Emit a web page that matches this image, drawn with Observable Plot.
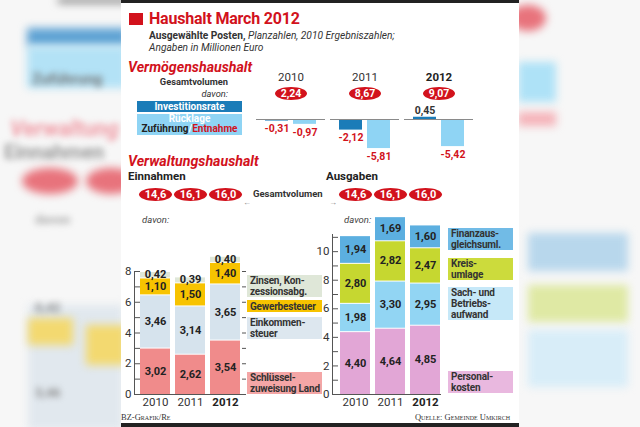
<!DOCTYPE html>
<html><head><meta charset="utf-8">
<script src="https://cdn.jsdelivr.net/npm/d3@7"></script>
<script src="https://cdn.jsdelivr.net/npm/@observablehq/plot@0.6"></script>
<style>
body{margin:0;background:#fff;}
#root{position:relative;width:640px;height:427px;overflow:hidden;background:#f7f7f7;font-family:Roboto,"Liberation Sans",sans-serif;color:#222;}
.abs{position:absolute;white-space:nowrap;}
.bl{position:absolute;filter:blur(4px);}
.blt{position:absolute;filter:blur(3px);white-space:nowrap;font-weight:bold;}
.plot{position:absolute;}
.plot svg{overflow:visible;}
.lg{position:absolute;font-size:10px;font-weight:bold;line-height:11px;letter-spacing:-0.2px;white-space:nowrap;color:#333;padding-left:3px;box-sizing:border-box;display:flex;flex-direction:column;justify-content:center;}
.lg span{display:block;height:11px;line-height:11px;}
</style></head>
<body>
<div id="root">
  <!-- blurred background decoration -->
  <div class="bl" style="left:58px;top:-2px;width:70px;height:5px;background:#777"></div>
  <div class="bl" style="left:27px;top:28px;width:100px;height:18px;background:#5fa3d4"></div>
  <div class="bl" style="left:27px;top:46px;width:100px;height:42px;background:#b3e2f6"></div>
  <div class="blt" style="left:32px;top:70px;font-size:15px;color:#777">Zuführung</div>
  <div class="blt" style="left:10px;top:116px;font-size:22px;color:#f09aa4;font-style:italic">Verwaltung</div>
  <div class="blt" style="left:4px;top:140px;font-size:20px;color:#999">Einnahmen</div>
  <div class="bl" style="left:22px;top:168px;width:56px;height:26px;border-radius:50%;background:#e8737c"></div>
  <div class="bl" style="left:86px;top:168px;width:50px;height:26px;border-radius:50%;background:#e8737c"></div>
  <div class="blt" style="left:35px;top:212px;font-size:13px;color:#aaa">davon</div>
  <div class="bl" style="left:28px;top:305px;width:95px;height:125px;background:#e1e8ee"></div>
  <div class="bl" style="left:28px;top:318px;width:45px;height:27px;background:#f3d970"></div>
  <div class="bl" style="left:86px;top:325px;width:40px;height:40px;background:#f3d970"></div>
  <div class="blt" style="left:35px;top:300px;font-size:13px;color:#888">0,42</div>
  <div class="blt" style="left:35px;top:385px;font-size:13px;color:#888">3,46</div>
  <div class="bl" style="left:510px;top:5px;width:36px;height:26px;border-radius:50%;background:#e8737c"></div>
  <div class="bl" style="left:518px;top:62px;width:38px;height:40px;background:#aee2f7"></div>
  <div class="bl" style="left:518px;top:112px;width:38px;height:14px;background:#f5b3b9"></div>
  <div class="bl" style="left:528px;top:233px;width:100px;height:38px;background:#b8d7ec"></div>
  <div class="bl" style="left:528px;top:285px;width:100px;height:37px;background:#dfe9a4"></div>
  <div class="bl" style="left:528px;top:330px;width:100px;height:57px;background:#d8edf8"></div>

  <!-- white panel -->
  <div class="abs" style="left:121px;top:0;width:398px;height:427px;background:#fff"></div>
  <div class="abs" style="left:121px;top:0;width:398px;height:3px;background:#222"></div>
  <div class="abs" style="left:121px;top:423px;width:398px;height:4px;background:#222"></div>

  <!-- header -->
  <div class="abs" style="left:129px;top:13px;width:14px;height:12px;background:#d2121c"></div>
  <div class="abs" id="title" style="left:149px;top:9px;font-size:16px;line-height:20px;font-weight:bold;color:#d2121c;letter-spacing:-0.2px">Haushalt March 2012</div>
  <div class="abs" style="left:149px;top:30px;font-size:10.2px;line-height:12px;color:#333"><b>Ausgewählte Posten,</b> <i>Planzahlen, 2010 Ergebniszahlen;</i><br><i>Angaben in Millionen Euro</i></div>

  <!-- Vermögenshaushalt -->
  <div class="abs" style="left:128px;top:58px;font-size:14.2px;line-height:18px;font-weight:bold;font-style:italic;color:#d2121c">Vermögenshaushalt</div>
  <div class="abs" style="left:130px;top:77px;width:98px;height:9px;text-align:right;font-size:9.3px;line-height:9px;font-weight:bold;color:#333">Gesamtvolumen</div>
  <div class="abs" style="left:130px;top:89px;width:98px;height:9px;text-align:right;font-size:9.3px;line-height:9px;font-style:italic;color:#333">davon:</div>
  <div class="abs" id="legInv" style="left:137px;top:101px;width:105px;height:11px;font-size:10px;line-height:11px;font-weight:bold;color:#fff;text-align:center"></div>
  <div class="abs" id="legRue" style="left:137px;top:114px;width:105px;height:21px;font-size:10px;line-height:10px;font-weight:bold;text-align:center"></div>

  <!-- Verwaltungshaushalt -->
  <div class="abs" style="left:128px;top:152px;font-size:14.2px;line-height:18px;font-weight:bold;font-style:italic;color:#d2121c">Verwaltungshaushalt</div>
  <div class="abs" style="left:128px;top:169px;font-size:11.5px;line-height:14px;font-weight:bold;color:#222">Einnahmen</div>
  <div class="abs" style="left:326px;top:169px;font-size:11.5px;line-height:14px;font-weight:bold;color:#222">Ausgaben</div>
  <div class="abs" style="left:253px;top:189px;font-size:9.5px;line-height:10px;font-weight:bold;color:#333">Gesamtvolumen</div>
  <div class="abs" style="left:243px;top:198px;font-size:8px;line-height:9px;color:#888">&#8592;</div>
  <div class="abs" style="left:329px;top:198px;font-size:8px;line-height:9px;color:#888">&#8594;</div>
  <div class="abs" style="left:142px;top:214px;font-size:9.5px;line-height:12px;font-style:italic;color:#444">davon:</div>
  <div class="abs" style="left:344px;top:214px;font-size:9.5px;line-height:12px;font-style:italic;color:#444">davon:</div>

  <div id="legE"></div>
  <div id="legA"></div>

  <div class="plot" id="pV" style="left:250px;top:70px"></div>
  <div class="plot" id="pE" style="left:120px;top:180px"></div>
  <div class="plot" id="pA" style="left:300px;top:180px"></div>

  <!-- footer -->
  <div class="abs" style="left:121px;top:412px;font-family:'Liberation Serif',serif;font-size:8.5px;line-height:11px;font-variant:small-caps;color:#333">BZ-Grafik/Re</div>
  <div class="abs" style="left:320px;top:412px;width:190px;text-align:right;font-family:'Liberation Serif',serif;font-size:8.5px;line-height:11px;font-variant:small-caps;color:#333">Quelle: Gemeinde Umkirch</div>
</div>
<script>
// ---------- data ----------
const years = ["2010", "2011", "2012"];
// Vermögenshaushalt
const vermoegenTotal = [2.24, 8.67, 9.07];
const vermoegenTypes = ["Investitionsrate", "Rücklage"];
const investitionsrate = [-0.31, -2.12, 0.45];
const ruecklage = [-0.97, -5.81, -5.42];
// Verwaltungshaushalt
const einnahmenTotal = [14.6, 16.1, 16.0];
const ausgabenTotal = [14.6, 16.1, 16.0];
const einnahmenCats = ["Schlüsselzuweisung Land", "Einkommensteuer", "Gewerbesteuer", "Zinsen, Konzessionsabg."];
const einnahmenLabels = [["Schlüssel-", "zuweisung Land"], ["Einkommen-", "steuer"], ["Gewerbesteuer"], ["Zinsen, Kon-", "zessionsabg."]];
const schluesselzuweisung = [3.02, 2.62, 3.54];
const einkommensteuer = [3.46, 3.14, 3.65];
const gewerbesteuer = [1.10, 1.50, 1.40];
const zinsen = [0.42, 0.39, 0.40];
const ausgabenCats = ["Personalkosten", "Sach- und Betriebsaufwand", "Kreisumlage", "Finanzausgleichsumlage"];
const ausgabenLabels = [["Personal-", "kosten"], ["Sach- und", "Betriebs-", "aufwand"], ["Kreis-", "umlage"], ["Finanzaus-", "gleichsuml."]];
const personalkosten = [4.40, 4.64, 4.85];
const sachaufwand = [1.98, 3.30, 2.95];
const kreisumlage = [2.80, 2.82, 2.47];
const finanzausgleich = [1.94, 1.69, 1.60];
const einnahmenTicks = [0, 2, 4, 6, 8];
const ausgabenTicks = [0, 2, 4, 6, 8, 10];

// ---------- styles ----------
const RED = "#d2121c";
const FONT = "Roboto, 'Liberation Sans', sans-serif";
const vColors = ["#1b7cb8", "#8fd4f4"];
const eColors = ["#f08b8b", "#d6e3ed", "#f7c300", "#dfe7d8"];
const eLegendColors = ["#f4a6a6", "#dde7ef", "#f7c300", "#dfe7d8"];
const aColors = ["#e2a6d6", "#92d5f3", "#c6d730", "#5cafe0"];
const aLegendColors = ["#e9b8df", "#c6e8f8", "#ccdb3c", "#71bbe6"];

const fmt2 = v => v.toFixed(2).replace(".", ",");
const fmt1 = v => v.toFixed(1).replace(".", ",");

function ellipse(rx, ry) {
  const k = 0.5523;
  return {draw(c) {
    c.moveTo(rx, 0);
    c.bezierCurveTo(rx, k * ry, k * rx, ry, 0, ry);
    c.bezierCurveTo(-k * rx, ry, -rx, k * ry, -rx, 0);
    c.bezierCurveTo(-rx, -k * ry, -k * rx, -ry, 0, -ry);
    c.bezierCurveTo(k * rx, -ry, rx, -k * ry, rx, 0);
    c.closePath();
  }};
}

// ---------- legends (HTML) ----------
document.getElementById("legInv").style.background = vColors[0];
document.getElementById("legInv").textContent = vermoegenTypes[0];
const lr = document.getElementById("legRue");
lr.style.background = vColors[1];
lr.innerHTML = `<span style="color:#fff">Rücklage</span><br><span style="color:#222">Zuführung</span><span style="color:#fff">/</span><span style="color:${RED}">Entnahme</span>`;

function legend(id, left, width, tops, heights, labels, colors) {
  const el = document.getElementById(id);
  labels.forEach((lines, i) => {
    const d = document.createElement("div");
    d.className = "lg";
    d.style.cssText = `left:${left}px;top:${tops[i]}px;width:${width}px;height:${heights[i]}px;background:${colors[i]}`;
    lines.forEach(t => {
      const s = document.createElement("span");
      s.textContent = t;
      d.appendChild(s);
    });
    el.appendChild(d);
  });
}
legend("legE", 247, 75, [372, 317, 300, 275], [22, 22, 12, 22], einnahmenLabels, eLegendColors);
legend("legA", 448, 65, [371, 287, 258, 228], [22, 33, 22, 22], ausgabenLabels, aLegendColors);

// ---------- Vermögenshaushalt ----------
const vRows = years.flatMap((y, i) => [
  {year: y, type: vermoegenTypes[0], value: investitionsrate[i]},
  {year: y, type: vermoegenTypes[1], value: ruecklage[i]}
]);
const pill = ellipse(16, 6.5);
const vPlot = Plot.plot({
  width: 230, height: 92, marginLeft: 6, marginRight: 7, marginTop: 35, marginBottom: 5,
  style: {fontFamily: FONT, background: "transparent", overflow: "visible"},
  fx: {domain: years, paddingInner: 0.07, paddingOuter: 0, axis: null, label: null},
  x: {domain: vermoegenTypes, paddingInner: 0.18, paddingOuter: 0.32, axis: null, label: null},
  y: {domain: [-7.6, 2.8], axis: null, label: null},
  color: {domain: vermoegenTypes, range: vColors},
  marks: [
    Plot.barY(vRows, {fx: "year", x: "type", y: "value", fill: "type"}),
    Plot.ruleY([0], {stroke: "#8a8a8a", strokeWidth: 1}),
    Plot.text(vRows.filter(d => d.value < 0), {fx: "year", x: "type", y: "value", text: d => fmt2(d.value), dy: 8, fill: RED, fontWeight: "bold", fontSize: 10.5}),
    Plot.text(vRows.filter(d => d.value >= 0), {fx: "year", x: "type", y: "value", text: d => fmt2(d.value), dy: -7, fill: "#333", fontWeight: "bold", fontSize: 10.5}),
    Plot.text(years.slice(0, 2), {fx: d => d, frameAnchor: "top", lineAnchor: "middle", dy: -28, text: d => d, fontSize: 11.5, fill: "#333"}),
    Plot.text(years.slice(2), {fx: d => d, frameAnchor: "top", lineAnchor: "middle", dy: -28, text: d => d, fontSize: 11.5, fill: "#222", fontWeight: "bold"}),
    Plot.dot(years, {fx: d => d, frameAnchor: "top", dy: -12, symbol: pill, fill: RED, stroke: null}),
    Plot.text(years, {fx: d => d, frameAnchor: "top", lineAnchor: "middle", dy: -12, text: (d, i) => fmt2(vermoegenTotal[i]), fill: "#fff", fontWeight: "bold", fontSize: 10.5})
  ]
});
document.getElementById("pV").appendChild(vPlot);

// ---------- stacked bar charts ----------
function stackedChart({cats, series, totals, colors, ticks, yMax, tickMax, width, height, marginLeft, marginRight, marginTop, marginBottom, xPad, rightTicks}) {
  const rows = years.flatMap((y, i) => cats.map((c, j) => ({year: y, cat: c, value: series[j][i]})));
  const minor = d3.range(0, tickMax + 1);
  return Plot.plot({
    width, height, marginLeft, marginRight, marginTop, marginBottom,
    style: {fontFamily: FONT, background: "transparent", overflow: "visible"},
    x: {domain: years, paddingInner: xPad[0], paddingOuter: xPad[1], align: xPad[2], axis: null, label: null},
    y: {domain: [0, yMax], axis: null, label: null},
    color: {domain: cats, range: colors},
    marks: [
      Plot.barY(rows, {x: "year", y: "value", fill: "cat", insetTop: 1}),
      Plot.text(rows, Plot.stackY({x: "year", y: "value", text: d => fmt2(d.value), fontWeight: "bold", fontSize: 11, fill: "#222"})),
      Plot.frame({anchor: "left", stroke: "#555"}),
      Plot.ruleY([0], {stroke: "#555"}),
      Plot.axisY(ticks, {tickSize: 0, tickPadding: 3, fontSize: 11.5, fill: "#333", label: null}),
      Plot.axisY(minor, {tickSize: 6, dx: 6, fill: "none", stroke: "#555", label: null}),
      rightTicks ? Plot.axisY(minor, {anchor: "right", tickSize: 4, dx: -4, fill: "none", stroke: "#555", label: null}) : null,
      Plot.axisX(years.slice(0, 2), {tickSize: 0, tickPadding: 3, fontSize: 11.5, fill: "#333", label: null}),
      Plot.axisX(years.slice(2), {tickSize: 0, tickPadding: 3, fontSize: 11.5, fill: "#222", fontWeight: "bold", label: null}),
      Plot.dot(years, {x: d => d, frameAnchor: "top", dy: -(marginTop - 14), symbol: ellipse(16.5, 6.5), fill: RED, stroke: null}),
      Plot.text(years, {x: d => d, frameAnchor: "top", lineAnchor: "middle", dy: -(marginTop - 14), text: (d, i) => fmt1(totals[i]), fill: "#fff", fontWeight: "bold", fontSize: 11})
    ]
  });
}

document.getElementById("pE").appendChild(stackedChart({
  cats: einnahmenCats, series: [schluesselzuweisung, einkommensteuer, gewerbesteuer, zinsen],
  totals: einnahmenTotal, colors: eColors, ticks: einnahmenTicks, yMax: 8, tickMax: 8,
  width: 127, height: 234, marginLeft: 14, marginRight: 2, marginTop: 91, marginBottom: 20,
  xPad: [0.133, 0.13, 0.55], rightTicks: true
}));
document.getElementById("pA").appendChild(stackedChart({
  cats: ausgabenCats, series: [personalkosten, sachaufwand, kreisumlage, finanzausgleich],
  totals: ausgabenTotal, colors: aColors, ticks: ausgabenTicks, yMax: 11.2, tickMax: 11,
  width: 143, height: 234, marginLeft: 32, marginRight: 2, marginTop: 54, marginBottom: 20,
  xPad: [0.142, 0.117, 0.85], rightTicks: false
}));
</script>
</body></html>
